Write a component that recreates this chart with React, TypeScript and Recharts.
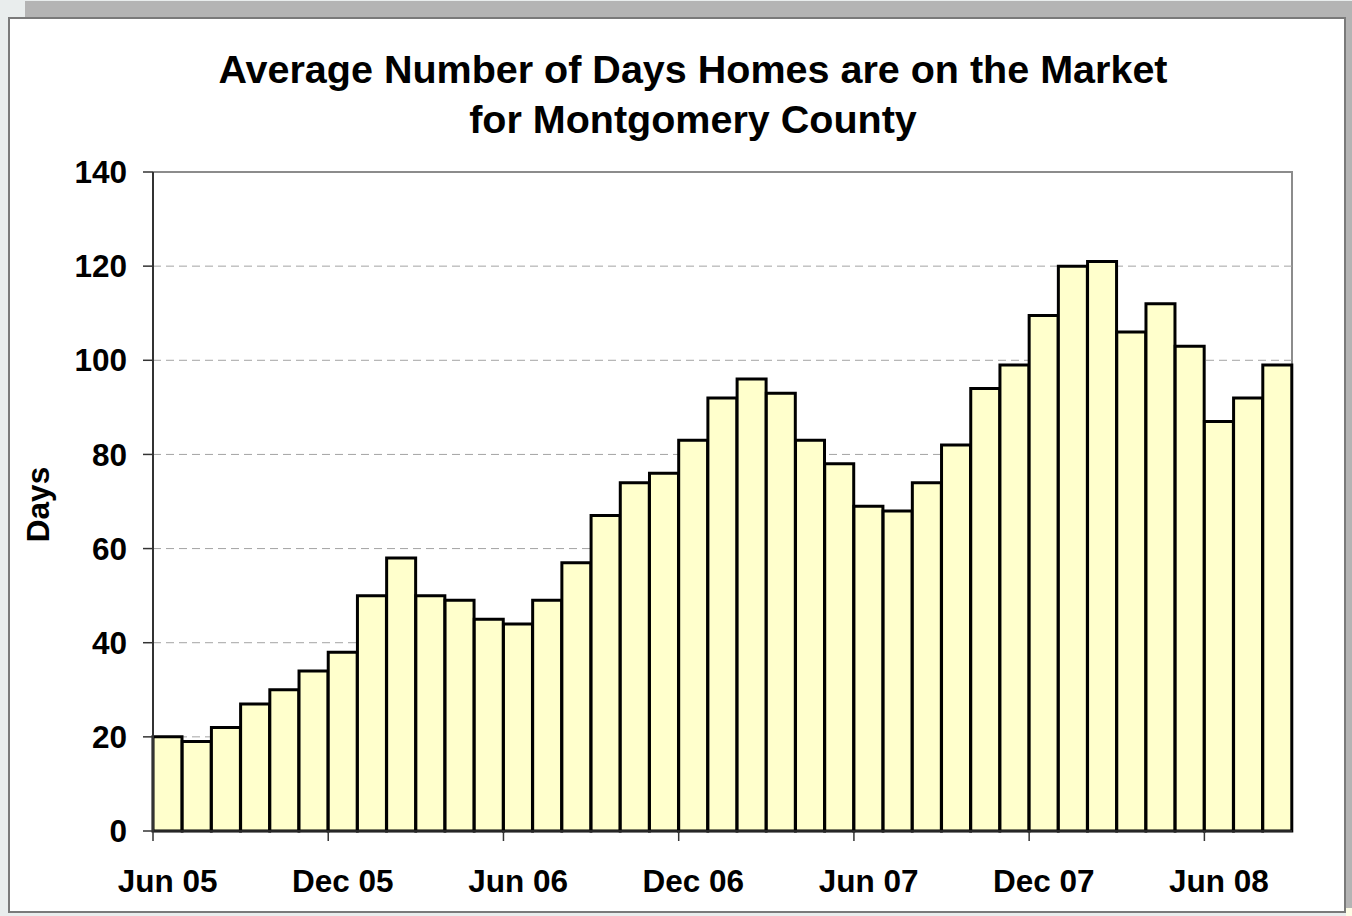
import React from "react";
import {
  BarChart,
  Bar,
  XAxis,
  YAxis,
  CartesianGrid,
  ReferenceLine,
} from "recharts";

const months = [
  "Jun 05", "Jul 05", "Aug 05", "Sep 05", "Oct 05", "Nov 05",
  "Dec 05", "Jan 06", "Feb 06", "Mar 06", "Apr 06", "May 06",
  "Jun 06", "Jul 06", "Aug 06", "Sep 06", "Oct 06", "Nov 06",
  "Dec 06", "Jan 07", "Feb 07", "Mar 07", "Apr 07", "May 07",
  "Jun 07", "Jul 07", "Aug 07", "Sep 07", "Oct 07", "Nov 07",
  "Dec 07", "Jan 08", "Feb 08", "Mar 08", "Apr 08", "May 08",
  "Jun 08", "Jul 08", "Aug 08",
];

const daysOnMarket = [
  20, 19, 22, 27, 30, 34,
  38, 50, 58, 50, 49, 45,
  44, 49, 57, 67, 74, 76,
  83, 92, 96, 93, 83, 78,
  69, 68, 74, 82, 94, 99,
  109.5, 120, 121, 106, 112, 103,
  87, 92, 99,
];

const yTicks = [0, 20, 40, 60, 80, 100, 120, 140];

const titleLines = [
  "Average Number of Days Homes are on the Market",
  "for Montgomery County",
];

const data = months.map((month, i) => ({ month, days: daysOnMarket[i] }));

const FONT = '"Liberation Sans", Arial, Helvetica, sans-serif';
const AXIS_COLOR = "#333333";
const BORDER_COLOR = "#8c8c8c";

const CHART_W = 1352;
const CHART_H = 916;
const MARGIN = { top: 172, right: 60, bottom: 0, left: 0 };
const Y_AXIS_W = 153;
const X_AXIS_H = 85;
const PLOT_W = CHART_W - MARGIN.left - MARGIN.right - Y_AXIS_W;
const PLOT_H = CHART_H - MARGIN.top - MARGIN.bottom - X_AXIS_H;
const BAND = PLOT_W / data.length;

// excel style: tick mark sits on the category boundary, label on the bar
const MonthTick = (props: any) => {
  const { x, y, payload } = props;
  const edge = x - BAND / 2;
  return (
    <g>
      <line x1={edge} y1={y} x2={edge} y2={y + 10} stroke={AXIS_COLOR} strokeWidth={1.5} />
      <text
        x={x}
        y={y + 61}
        textAnchor="middle"
        fill="#000"
        style={{ fontFamily: FONT, fontSize: 31.5, fontWeight: 700 }}
      >
        {payload.value}
      </text>
    </g>
  );
};

const DaysLabel = (props: any) => {
  const vb = props.viewBox || { x: 0, y: MARGIN.top, width: Y_AXIS_W, height: PLOT_H };
  const cx = vb.x + 49;
  const cy = vb.y + vb.height / 2 + 3;
  return (
    <text
      x={cx}
      y={cy}
      transform={`rotate(-90 ${cx} ${cy})`}
      textAnchor="middle"
      fill="#000"
      style={{ fontFamily: FONT, fontSize: 31.5, fontWeight: 700 }}
    >
      Days
    </text>
  );
};

export default function App() {
  return (
    <div
      style={{
        position: "absolute",
        left: 0,
        top: 0,
        width: CHART_W,
        height: CHART_H,
        background: "#e9eded",
        overflow: "hidden",
        fontFamily: FONT,
      }}
    >
      <div style={{ position: "absolute", left: 25, top: 1, width: 1327, height: 17, background: "#b4b4b4" }} />
      <div style={{ position: "absolute", left: 1346, top: 1, width: 6, height: 907, background: "#b4b4b4" }} />
      <div style={{ position: "absolute", left: 1346, top: 908, width: 6, height: 8, background: "#fdfde6" }} />
      <div
        style={{
          position: "absolute",
          left: 8,
          top: 17,
          width: 1338,
          height: 896,
          boxSizing: "border-box",
          border: "2px solid #7a7a7a",
          background: "#fff",
        }}
      />
      {/* right edge of the plot frame, kept under the bars */}
      <div
        style={{
          position: "absolute",
          left: CHART_W - MARGIN.right - 1,
          top: MARGIN.top - 1,
          width: 2,
          height: PLOT_H + 1,
          background: BORDER_COLOR,
        }}
      />

      <div style={{ position: "absolute", left: 0, top: 0 }}>
        <BarChart
          width={CHART_W}
          height={CHART_H}
          data={data}
          margin={MARGIN}
          barCategoryGap={0}
          barGap={0}
        >
          <CartesianGrid vertical={false} stroke="#a4a4a4" strokeDasharray="8 5" />
          <XAxis
            dataKey="month"
            height={X_AXIS_H}
            interval={5}
            tickLine={false}
            tickSize={0}
            tickMargin={0}
            tick={<MonthTick />}
            axisLine={{ stroke: AXIS_COLOR, strokeWidth: 1.5 }}
          />
          <YAxis
            width={Y_AXIS_W}
            domain={[0, 140]}
            ticks={yTicks}
            interval={0}
            tickSize={10}
            tickMargin={16}
            tickLine={{ stroke: AXIS_COLOR, strokeWidth: 1.5 }}
            axisLine={{ stroke: AXIS_COLOR, strokeWidth: 2 }}
            tick={{ fill: "#000", fontSize: 31.5, fontWeight: 700, fontFamily: FONT }}
            label={<DaysLabel />}
          />
          <ReferenceLine y={140} stroke={BORDER_COLOR} strokeWidth={2} />
          <Bar
            dataKey="days"
            fill="#ffffcc"
            stroke="#000"
            strokeWidth={3}
            isAnimationActive={false}
          />
        </BarChart>
      </div>

      <svg
        width={CHART_W}
        height={CHART_H}
        style={{ position: "absolute", left: 0, top: 0, pointerEvents: "none" }}
      >
        {titleLines.map((line, i) => (
          <text
            key={line}
            x={693}
            y={83 + i * 50}
            textAnchor="middle"
            fill="#000"
            style={{ fontFamily: FONT, fontSize: 39.5, fontWeight: 700 }}
          >
            {line}
          </text>
        ))}
      </svg>
    </div>
  );
}
